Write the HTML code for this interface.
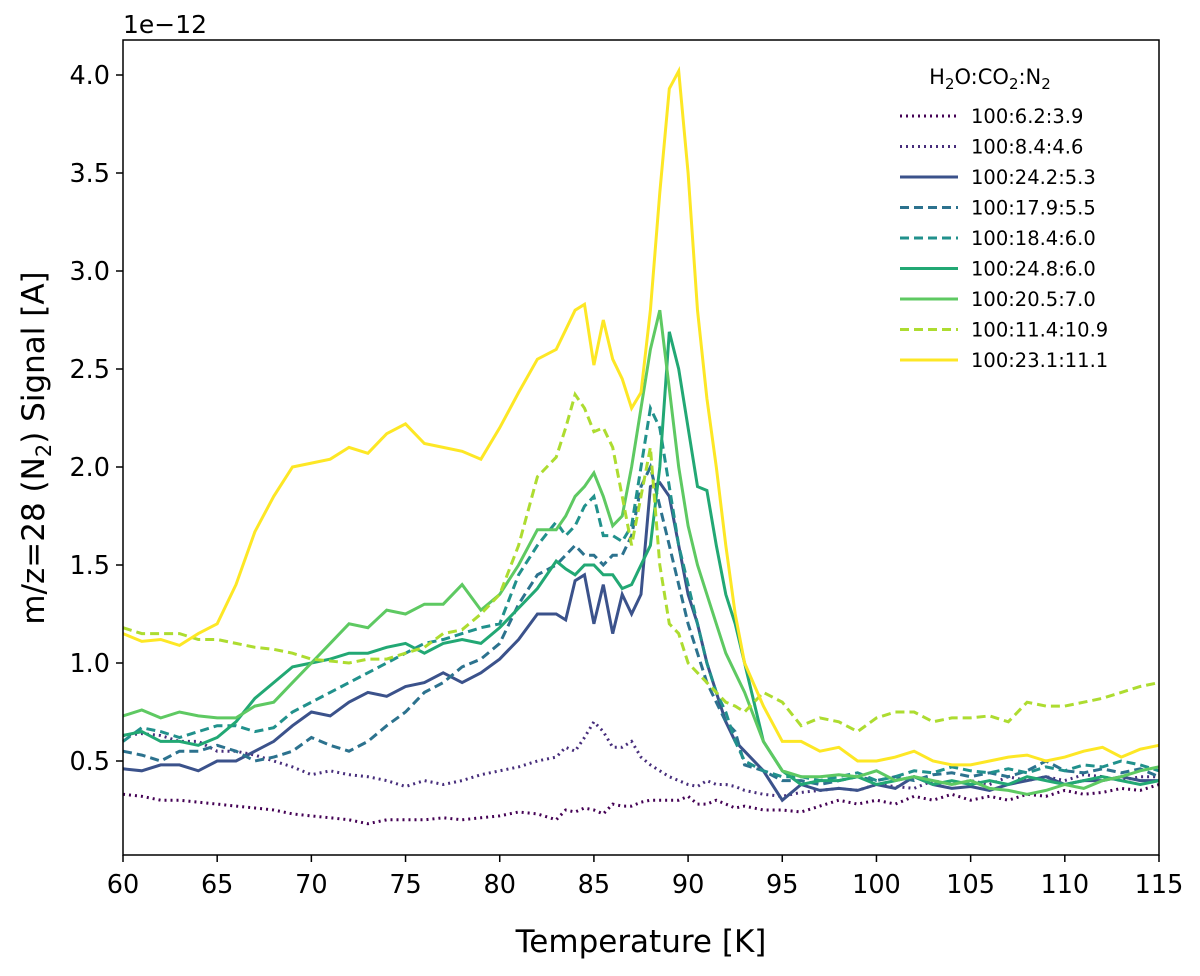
<!DOCTYPE html>
<html><head><meta charset="utf-8"><style>
body{margin:0;background:#fff;}
svg text{font-family:"DejaVu Sans","Liberation Sans",sans-serif;fill:#000;}
</style></head><body>
<svg id="chart" width="1200" height="971" xmlns="http://www.w3.org/2000/svg">
<rect x="0" y="0" width="1200" height="971" fill="#fff"/>
<g id="series"></g>
<rect x="123" y="40" width="1036" height="815" fill="none" stroke="#000" stroke-width="1.5"/>
<g id="axes"></g>
<text x="123" y="33" font-size="25">1e−12</text>
<text x="641" y="952" font-size="31" text-anchor="middle">Temperature [K]</text>
<text transform="translate(44,448) rotate(-90)" font-size="31" text-anchor="middle">m/z=28 (N<tspan font-size="21" dy="7">2</tspan><tspan dy="-7">) Signal [A]</tspan></text>
<g id="legend">
<text x="990" y="84" font-size="21" text-anchor="middle">H<tspan font-size="15" dy="5">2</tspan><tspan dy="-5">O:CO</tspan><tspan font-size="15" dy="5">2</tspan><tspan dy="-5">:N</tspan><tspan font-size="15" dy="5">2</tspan></text>
</g>
</svg>
<script>
const temps=[60,61,62,63,64,65,66,67,68,69,70,71,72,73,74,75,76,77,78,79,80,81,82,83,83.5,84,84.5,85,85.5,86,86.5,87,87.5,88,88.5,89,89.5,90,90.5,91,91.5,92,92.5,93,94,95,96,97,98,99,100,101,102,103,104,105,106,107,108,109,110,111,112,113,114,115];
const labels=["100:6.2:3.9","100:8.4:4.6","100:24.2:5.3","100:17.9:5.5","100:18.4:6.0","100:24.8:6.0","100:20.5:7.0","100:11.4:10.9","100:23.1:11.1"];
const s1=[0.33,0.32,0.3,0.3,0.29,0.28,0.27,0.26,0.25,0.23,0.22,0.21,0.2,0.18,0.2,0.2,0.2,0.21,0.2,0.21,0.22,0.24,0.23,0.2,0.25,0.24,0.26,0.25,0.23,0.28,0.27,0.27,0.29,0.3,0.3,0.3,0.3,0.32,0.28,0.28,0.3,0.28,0.26,0.27,0.25,0.25,0.24,0.27,0.3,0.28,0.3,0.28,0.32,0.3,0.33,0.3,0.32,0.3,0.33,0.32,0.35,0.33,0.34,0.36,0.35,0.38];
const s2=[0.63,0.64,0.63,0.6,0.6,0.55,0.55,0.53,0.5,0.47,0.43,0.45,0.43,0.42,0.4,0.37,0.4,0.38,0.4,0.43,0.45,0.47,0.5,0.52,0.57,0.55,0.62,0.7,0.65,0.57,0.57,0.6,0.52,0.48,0.45,0.42,0.4,0.38,0.37,0.4,0.38,0.38,0.37,0.35,0.33,0.32,0.34,0.35,0.36,0.35,0.38,0.37,0.36,0.4,0.38,0.4,0.38,0.42,0.4,0.42,0.4,0.43,0.42,0.4,0.42,0.42];
const s3=[0.46,0.45,0.48,0.48,0.45,0.5,0.5,0.55,0.6,0.68,0.75,0.73,0.8,0.85,0.83,0.88,0.9,0.95,0.9,0.95,1.02,1.12,1.25,1.25,1.22,1.42,1.45,1.2,1.4,1.15,1.35,1.25,1.35,1.9,1.92,1.85,1.6,1.35,1.2,1.0,0.85,0.7,0.6,0.55,0.45,0.3,0.38,0.35,0.36,0.35,0.38,0.36,0.42,0.38,0.36,0.37,0.35,0.38,0.4,0.42,0.38,0.4,0.4,0.42,0.4,0.4];
const s4=[0.55,0.53,0.5,0.55,0.55,0.58,0.55,0.5,0.52,0.55,0.62,0.58,0.55,0.6,0.68,0.75,0.85,0.9,0.98,1.02,1.1,1.3,1.45,1.5,1.55,1.6,1.55,1.55,1.5,1.55,1.55,1.65,1.9,2.0,1.8,1.6,1.4,1.2,1.05,0.9,0.8,0.7,0.65,0.48,0.45,0.4,0.4,0.38,0.4,0.42,0.4,0.42,0.4,0.43,0.44,0.42,0.44,0.42,0.45,0.5,0.45,0.44,0.46,0.44,0.46,0.42];
const s5=[0.6,0.67,0.65,0.62,0.65,0.68,0.68,0.65,0.67,0.75,0.8,0.85,0.9,0.95,1.0,1.05,1.1,1.12,1.15,1.18,1.2,1.45,1.6,1.72,1.65,1.7,1.8,1.85,1.65,1.65,1.62,1.7,2.0,2.3,2.2,1.9,1.6,1.4,1.2,1.0,0.85,0.75,0.6,0.5,0.45,0.42,0.42,0.4,0.42,0.44,0.4,0.42,0.45,0.44,0.47,0.45,0.44,0.46,0.44,0.47,0.45,0.48,0.47,0.5,0.48,0.45];
const s6=[0.63,0.65,0.6,0.6,0.58,0.62,0.7,0.82,0.9,0.98,1.0,1.02,1.05,1.05,1.08,1.1,1.05,1.1,1.12,1.1,1.18,1.28,1.38,1.52,1.48,1.45,1.5,1.5,1.45,1.45,1.38,1.4,1.5,1.6,2.0,2.69,2.5,2.2,1.9,1.88,1.6,1.35,1.2,1.0,0.6,0.45,0.38,0.4,0.4,0.42,0.38,0.4,0.42,0.38,0.4,0.38,0.4,0.38,0.42,0.4,0.38,0.4,0.42,0.4,0.38,0.4];
const s7=[0.73,0.76,0.72,0.75,0.73,0.72,0.72,0.78,0.8,0.9,1.0,1.1,1.2,1.18,1.27,1.25,1.3,1.3,1.4,1.27,1.35,1.5,1.68,1.68,1.75,1.85,1.9,1.97,1.85,1.7,1.75,2.0,2.3,2.6,2.8,2.4,2.0,1.7,1.5,1.35,1.2,1.05,0.95,0.85,0.6,0.45,0.42,0.42,0.43,0.42,0.45,0.4,0.42,0.4,0.38,0.4,0.36,0.35,0.33,0.35,0.38,0.36,0.4,0.42,0.45,0.47];
const s8=[1.18,1.15,1.15,1.15,1.12,1.12,1.1,1.08,1.07,1.05,1.02,1.01,1.0,1.02,1.02,1.05,1.08,1.15,1.17,1.25,1.35,1.6,1.95,2.05,2.2,2.37,2.3,2.18,2.2,2.1,1.85,1.6,1.85,2.1,1.5,1.2,1.15,1.0,0.95,0.9,0.85,0.8,0.78,0.75,0.85,0.8,0.68,0.72,0.7,0.65,0.72,0.75,0.75,0.7,0.72,0.72,0.73,0.7,0.8,0.78,0.78,0.8,0.82,0.85,0.88,0.9];
const s9=[1.15,1.11,1.12,1.09,1.15,1.2,1.4,1.67,1.85,2.0,2.02,2.04,2.1,2.07,2.17,2.22,2.12,2.1,2.08,2.04,2.2,2.38,2.55,2.6,2.7,2.8,2.83,2.52,2.75,2.55,2.45,2.3,2.38,2.8,3.4,3.93,4.02,3.5,2.8,2.35,2.0,1.6,1.25,1.0,0.78,0.6,0.6,0.55,0.57,0.5,0.5,0.52,0.55,0.5,0.48,0.48,0.5,0.52,0.53,0.5,0.52,0.55,0.57,0.52,0.56,0.58];
const xTicks=[60,65,70,75,80,85,90,95,100,105,110,115];
const yTicks=[0.5,1.0,1.5,2.0,2.5,3.0,3.5,4.0];
const seriesData=[s1,s2,s3,s4,s5,s6,s7,s8,s9];
const colors=["#440154","#472d7b","#3b528b","#2c728e","#21918c","#22a874","#5ec962","#addc30","#fde725"];
const dashes=["2,4","2,4","","9,5","9,5","","","9,5",""];
const NS="http://www.w3.org/2000/svg";
function xs(t){return 123+(t-60)*(1036/55);}
function ys(v){return 859-v*196;}
const g=document.getElementById('series');
seriesData.forEach((d,i)=>{
  const p=document.createElementNS(NS,'path');
  p.setAttribute('d',d.map((v,j)=>(j?'L':'M')+xs(temps[j]).toFixed(1)+','+ys(v).toFixed(1)).join(''));
  p.setAttribute('fill','none');p.setAttribute('stroke',colors[i]);p.setAttribute('stroke-width','3');
  if(dashes[i])p.setAttribute('stroke-dasharray',dashes[i]);
  
  
  g.appendChild(p);
});
const ax=document.getElementById('axes');
xTicks.forEach(t=>{
  const l=document.createElementNS(NS,'line');
  l.setAttribute('x1',xs(t));l.setAttribute('x2',xs(t));l.setAttribute('y1',855);l.setAttribute('y2',862);l.setAttribute('stroke','#000');l.setAttribute('stroke-width','1.5');
  
  
  ax.appendChild(l);
  const tx=document.createElementNS(NS,'text');
  tx.setAttribute('x',xs(t));tx.setAttribute('y',893);tx.setAttribute('font-size','25.5');tx.setAttribute('text-anchor','middle');tx.textContent=t;
  
  
  ax.appendChild(tx);
});
yTicks.forEach(t=>{
  const l=document.createElementNS(NS,'line');
  l.setAttribute('x1',116);l.setAttribute('x2',123);l.setAttribute('y1',ys(t));l.setAttribute('y2',ys(t));l.setAttribute('stroke','#000');l.setAttribute('stroke-width','1.5');
  
  
  ax.appendChild(l);
  const tx=document.createElementNS(NS,'text');
  tx.setAttribute('x',110);tx.setAttribute('y',ys(t)+9);tx.setAttribute('font-size','25.5');tx.setAttribute('text-anchor','end');tx.textContent=t.toFixed(1);
  
  
  ax.appendChild(tx);
});
const lg=document.getElementById('legend');
labels.forEach((lab,i)=>{
  const y=116+i*30.5;
  const l=document.createElementNS(NS,'line');
  l.setAttribute('x1',900);l.setAttribute('x2',958);l.setAttribute('y1',y);l.setAttribute('y2',y);l.setAttribute('stroke',colors[i]);l.setAttribute('stroke-width','3');
  if(dashes[i])l.setAttribute('stroke-dasharray',dashes[i]);
  
  
  lg.appendChild(l);
  const tx=document.createElementNS(NS,'text');
  tx.setAttribute('x',971);tx.setAttribute('y',y+7);tx.setAttribute('font-size','19.5');tx.textContent=lab;
  
  
  lg.appendChild(tx);
});
</script>
</body></html>
